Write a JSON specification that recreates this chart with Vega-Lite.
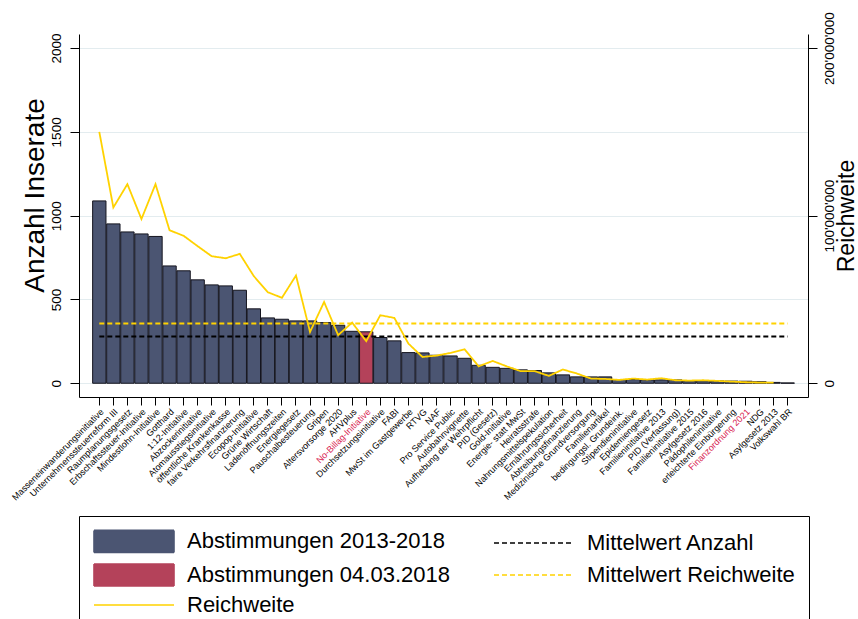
{
  "$schema": "https://vega.github.io/schema/vega-lite/v6.json",
  "width": 729,
  "height": 363,
  "autosize": {"type": "none"},
  "padding": {"left": 79, "top": 34, "right": 50, "bottom": 222},
  "background": "white",
  "config": {
    "font": "Liberation Sans",
    "view": {"stroke": null},
    "axis": {"labelFont": "Liberation Sans", "titleFont": "Liberation Sans", "labelColor": "black", "titleColor": "black", "domainColor": "black", "tickColor": "black", "titleFontWeight": "normal", "domainWidth": 1, "tickWidth": 1},
    "legend": {
      "title": null, "orient": "bottom", "direction": "horizontal", "columns": 2, "offset": 14,
      "labelFont": "Liberation Sans", "labelFontSize": 22, "labelColor": "black", "labelLimit": 400,
      "symbolSize": 400, "symbolStrokeWidth": 1.6, "labelOffset": 72, "columnPadding": 40, "rowPadding": 4,
      "strokeColor": "black", "fillColor": "white", "padding": 14
    }
  },
  "data": {"values": [
    {"name": "Masseneinwanderungsinitiative", "anzahl": 1088, "reichweite": 150000000, "gruppe": "Abstimmungen 2013-2018"},
    {"name": "Unternehmenssteuerreform III", "anzahl": 951, "reichweite": 104900000, "gruppe": "Abstimmungen 2013-2018"},
    {"name": "Raumplanungsgesetz", "anzahl": 903, "reichweite": 118800000, "gruppe": "Abstimmungen 2013-2018"},
    {"name": "Erbschaftssteuer-Initiative", "anzahl": 891, "reichweite": 98000000, "gruppe": "Abstimmungen 2013-2018"},
    {"name": "Mindestlohn-Initiative", "anzahl": 876, "reichweite": 118800000, "gruppe": "Abstimmungen 2013-2018"},
    {"name": "Gotthard", "anzahl": 700, "reichweite": 91300000, "gruppe": "Abstimmungen 2013-2018"},
    {"name": "1:12-Initiative", "anzahl": 671, "reichweite": 88000000, "gruppe": "Abstimmungen 2013-2018"},
    {"name": "Abzockerinitiative", "anzahl": 617, "reichweite": 81800000, "gruppe": "Abstimmungen 2013-2018"},
    {"name": "Atomausstiegsinitiative", "anzahl": 587, "reichweite": 75800000, "gruppe": "Abstimmungen 2013-2018"},
    {"name": "öffentliche Krankenkasse", "anzahl": 581, "reichweite": 74600000, "gruppe": "Abstimmungen 2013-2018"},
    {"name": "faire Verkehrsfinanzierung", "anzahl": 555, "reichweite": 77200000, "gruppe": "Abstimmungen 2013-2018"},
    {"name": "Ecopop-Initiative", "anzahl": 444, "reichweite": 63900000, "gruppe": "Abstimmungen 2013-2018"},
    {"name": "Grüne Wirtschaft", "anzahl": 390, "reichweite": 54300000, "gruppe": "Abstimmungen 2013-2018"},
    {"name": "Ladenöffnungszeiten", "anzahl": 382, "reichweite": 51000000, "gruppe": "Abstimmungen 2013-2018"},
    {"name": "Energiegesetz", "anzahl": 372, "reichweite": 64300000, "gruppe": "Abstimmungen 2013-2018"},
    {"name": "Pauschalbesteuerung", "anzahl": 372, "reichweite": 30600000, "gruppe": "Abstimmungen 2013-2018"},
    {"name": "Gripen", "anzahl": 362, "reichweite": 48500000, "gruppe": "Abstimmungen 2013-2018"},
    {"name": "Altersvorsorge 2020", "anzahl": 346, "reichweite": 28700000, "gruppe": "Abstimmungen 2013-2018"},
    {"name": "AHVplus", "anzahl": 310, "reichweite": 36200000, "gruppe": "Abstimmungen 2013-2018"},
    {"name": "No-Billag-Initiative", "anzahl": 307, "reichweite": 25100000, "gruppe": "Abstimmungen 04.03.2018"},
    {"name": "Durchsetzungsinitiative", "anzahl": 273, "reichweite": 40600000, "gruppe": "Abstimmungen 2013-2018"},
    {"name": "FABI", "anzahl": 253, "reichweite": 39000000, "gruppe": "Abstimmungen 2013-2018"},
    {"name": "MwSt im Gastgewerbe", "anzahl": 183, "reichweite": 23700000, "gruppe": "Abstimmungen 2013-2018"},
    {"name": "RTVG", "anzahl": 181, "reichweite": 15700000, "gruppe": "Abstimmungen 2013-2018"},
    {"name": "NAF", "anzahl": 167, "reichweite": 16500000, "gruppe": "Abstimmungen 2013-2018"},
    {"name": "Pro Service Public", "anzahl": 163, "reichweite": 18100000, "gruppe": "Abstimmungen 2013-2018"},
    {"name": "Autobahnvignette", "anzahl": 149, "reichweite": 20300000, "gruppe": "Abstimmungen 2013-2018"},
    {"name": "Aufhebung der Wehrpflicht", "anzahl": 107, "reichweite": 10100000, "gruppe": "Abstimmungen 2013-2018"},
    {"name": "PID (Gesetz)", "anzahl": 95, "reichweite": 13300000, "gruppe": "Abstimmungen 2013-2018"},
    {"name": "Gold-Initiative", "anzahl": 89, "reichweite": 10100000, "gruppe": "Abstimmungen 2013-2018"},
    {"name": "Energie- statt MwSt", "anzahl": 80, "reichweite": 7200000, "gruppe": "Abstimmungen 2013-2018"},
    {"name": "Heiratsstrafe", "anzahl": 76, "reichweite": 7200000, "gruppe": "Abstimmungen 2013-2018"},
    {"name": "Nahrungsmittelspekulation", "anzahl": 62, "reichweite": 4400000, "gruppe": "Abstimmungen 2013-2018"},
    {"name": "Ernährungssicherheit", "anzahl": 50, "reichweite": 8200000, "gruppe": "Abstimmungen 2013-2018"},
    {"name": "Abtreibungsfinanzierung", "anzahl": 38, "reichweite": 5800000, "gruppe": "Abstimmungen 2013-2018"},
    {"name": "Medizinische Grundversorgung", "anzahl": 38, "reichweite": 2800000, "gruppe": "Abstimmungen 2013-2018"},
    {"name": "Familienartikel", "anzahl": 38, "reichweite": 2600000, "gruppe": "Abstimmungen 2013-2018"},
    {"name": "bedingungsl. Grundeink.", "anzahl": 22, "reichweite": 2000000, "gruppe": "Abstimmungen 2013-2018"},
    {"name": "Stipendieninitiative", "anzahl": 22, "reichweite": 2800000, "gruppe": "Abstimmungen 2013-2018"},
    {"name": "Epidemiengesetz", "anzahl": 20, "reichweite": 2200000, "gruppe": "Abstimmungen 2013-2018"},
    {"name": "Familieninitiative 2013", "anzahl": 20, "reichweite": 3000000, "gruppe": "Abstimmungen 2013-2018"},
    {"name": "PID (Verfassung)", "anzahl": 20, "reichweite": 1800000, "gruppe": "Abstimmungen 2013-2018"},
    {"name": "Familieninitiative 2015", "anzahl": 15, "reichweite": 1600000, "gruppe": "Abstimmungen 2013-2018"},
    {"name": "Asylgesetz 2016", "anzahl": 15, "reichweite": 1800000, "gruppe": "Abstimmungen 2013-2018"},
    {"name": "Pädophileninitiative", "anzahl": 14, "reichweite": 1400000, "gruppe": "Abstimmungen 2013-2018"},
    {"name": "erleichterte Einbürgerung", "anzahl": 13, "reichweite": 1000000, "gruppe": "Abstimmungen 2013-2018"},
    {"name": "Finanzordnung 2021", "anzahl": 12, "reichweite": 600000, "gruppe": "Abstimmungen 04.03.2018"},
    {"name": "NDG", "anzahl": 9, "reichweite": 400000, "gruppe": "Abstimmungen 2013-2018"},
    {"name": "Asylgesetz 2013", "anzahl": 5, "reichweite": 400000, "gruppe": "Abstimmungen 2013-2018"},
    {"name": "Volkswahl BR", "anzahl": 2, "reichweite": null, "gruppe": "Abstimmungen 2013-2018"}
  ]},
  "transform": [
    {"joinaggregate": [
      {"op": "mean", "field": "anzahl", "as": "mittel_anzahl"},
      {"op": "mean", "field": "reichweite", "as": "mittel_reichweite"}
    ]}
  ],
  "encoding": {
    "x": {
      "field": "name", "type": "nominal", "sort": null,
      "scale": {"paddingInner": 0.05, "paddingOuter": 0.97},
      "axis": {
        "title": null, "labelAngle": -45, "labelFontSize": 9, "labelPadding": 2, "tickSize": 8,
        "labelOverlap": false, "labelBound": false, "labelLimit": 300, "grid": false,
        "labelColor": {"condition": {"test": "datum.value === 'No-Billag-Initiative' || datum.value === 'Finanzordnung 2021'", "value": "#d81b50"}, "value": "black"}
      }
    }
  },
  "layer": [
    {
      "layer": [
        {
          "mark": {"type": "bar", "stroke": "#15151f", "strokeWidth": 1},
          "encoding": {
            "y": {
              "field": "anzahl", "type": "quantitative", "title": "Anzahl Inserate",
              "scale": {"domain": [-82, 2084], "nice": false, "zero": false},
              "axis": {
                "values": [0, 500, 1000, 1500, 2000], "format": "d", "labelAngle": -90, "labelAlign": "center", "labelBaseline": "bottom",
                "labelFontSize": 13.5, "labelPadding": 7, "tickSize": 9, "grid": true, "gridColor": "#e3ecef", "gridWidth": 1.2,
                "titleFontSize": 28, "titlePadding": 0, "titleY": 161
              }
            },
            "color": {
              "field": "gruppe", "type": "nominal",
              "scale": {
                "domain": ["Abstimmungen 2013-2018", "Mittelwert Anzahl", "Abstimmungen 04.03.2018", "Mittelwert Reichweite", "Reichweite"],
                "range": ["#4b5572", "#000000", "#b4425a", "#ffd200", "#ffd200"]
              }
            }
          }
        },
        {
          "mark": {"type": "point"},
          "transform": [{"filter": "false"}],
          "encoding": {
            "y": {"field": "anzahl", "type": "quantitative", "title": "Anzahl Inserate"},
            "shape": {
              "field": "gruppe", "type": "nominal",
              "scale": {
                "domain": ["Abstimmungen 2013-2018", "Mittelwert Anzahl", "Abstimmungen 04.03.2018", "Mittelwert Reichweite", "Reichweite"],
                "range": ["M-1,-1.1L7,-1.1L7,1.1L-1,1.1Z", "M-1,0L7,0", "M-1,-1.1L7,-1.1L7,1.1L-1,1.1Z", "M-1,0L7,0", "M-1,0L7,0"]
              }
            }
          }
        },
        {
          "mark": {"type": "line", "strokeWidth": 2},
          "encoding": {
            "y": {"field": "mittel_anzahl", "type": "quantitative", "title": "Anzahl Inserate"},
            "color": {"datum": "Mittelwert Anzahl"},
            "strokeDash": {
              "datum": "Mittelwert Anzahl",
              "scale": {
                "domain": ["Abstimmungen 2013-2018", "Mittelwert Anzahl", "Abstimmungen 04.03.2018", "Mittelwert Reichweite", "Reichweite"],
                "range": [[1, 0], [5, 3], [1, 0], [5, 3], [1, 0]]
              }
            }
          }
        }
      ]
    },
    {
      "layer": [
        {
          "mark": {"type": "line", "strokeWidth": 1.8},
          "encoding": {
            "y": {
              "field": "reichweite", "type": "quantitative", "title": "Reichweite",
              "scale": {"domain": [-8200000, 208400000], "nice": false, "zero": false},
              "axis": {
                "orient": "right", "values": [0, 100000000, 200000000],
                "labelExpr": "replace(replace(format(datum.value, ',d'), ',', \"'\"), ',', \"'\")",
                "labelAngle": -90, "labelAlign": "center", "labelBaseline": "top",
                "labelFontSize": 13.5, "labelPadding": 5, "tickSize": 9, "grid": false,
                "titleFontSize": 23, "titleAngle": -90, "titleBaseline": "top", "titlePadding": 0
              }
            },
            "color": {"datum": "Reichweite"},
            "strokeDash": {"datum": "Reichweite"}
          }
        },
        {
          "mark": {"type": "line", "strokeWidth": 2},
          "encoding": {
            "y": {"field": "mittel_reichweite", "type": "quantitative", "title": "Reichweite"},
            "color": {"datum": "Mittelwert Reichweite"},
            "strokeDash": {"datum": "Mittelwert Reichweite"}
          }
        }
      ]
    }
  ],
  "resolve": {"scale": {"y": "independent"}, "axis": {"y": "independent"}}
}
